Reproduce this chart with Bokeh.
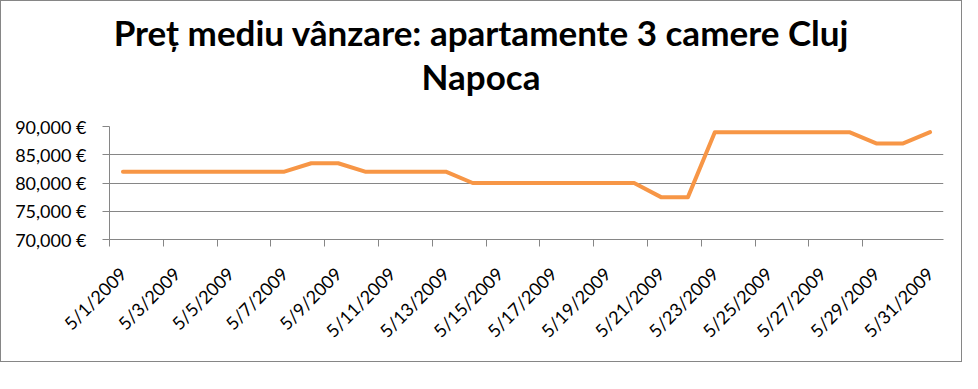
import math
from bokeh.plotting import figure
from bokeh.models import Range1d, FixedTicker, Div
from bokeh.layouts import column
from bokeh.embed import file_html
from bokeh.resources import INLINE

# ---- data ----
dates = ["5/%d/2009" % d for d in range(1, 32)]
prices = [82000, 82000, 82000, 82000, 82000, 82000, 82000,
          83500, 83500,
          82000, 82000, 82000, 82000,
          80000, 80000, 80000, 80000, 80000, 80000, 80000,
          77500, 77500,
          89000, 89000, 89000, 89000, 89000, 89000,
          87000, 87000,
          89000]
y_ticks = [70000, 75000, 80000, 85000, 90000]
y_tick_labels = ["70,000 €", "75,000 €", "80,000 €", "85,000 €", "90,000 €"]
title_lines = ["Preț mediu vânzare: apartamente 3 camere Cluj", "Napoca"]

x = list(range(len(dates)))
label_step = 2
label_pos = x[::label_step]
tick_pos = [i - 0.5 for i in label_pos if i < len(dates) - 1]

GRAY = "#868686"
FONT = "Lato"
W = 960

# title block
title_html = ('<div style="font-family:Lato; font-weight:bold; font-size:35px; '
              'line-height:44px; text-align:center; color:black; '
              'padding-top:9px; width:%dpx; margin:0;">%s</div>'
              % (W, "<br>".join(title_lines)))
title = Div(text=title_html, width=W, height=113, margin=(0, 0, 0, 0))

p = figure(width=W, height=247, output_backend="svg", toolbar_location=None,
           x_range=Range1d(-0.5, len(dates) - 0.5),
           y_range=Range1d(y_ticks[0], y_ticks[-1]),
           min_border_left=108, min_border_right=18,
           min_border_top=12, min_border_bottom=122)
p.title = None
p.outline_line_color = None
p.background_fill_color = "white"
p.border_fill_color = "white"

# y axis
ya = p.yaxis[0]
ya.ticker = FixedTicker(ticks=y_ticks)
ya.major_label_overrides = {t: s for t, s in zip(y_ticks, y_tick_labels)}
ya.major_tick_out = 7
ya.major_tick_in = 0
ya.minor_tick_out = 0
ya.minor_tick_in = 0
ya.axis_line_color = GRAY
ya.major_tick_line_color = GRAY
ya.major_label_standoff = 16
ya.major_label_text_font = FONT
ya.major_label_text_font_size = "18px"
ya.major_label_text_color = "black"

p.ygrid[0].ticker = FixedTicker(ticks=y_ticks)
p.ygrid[0].grid_line_color = GRAY
p.xgrid[0].grid_line_color = None

# x axis: labels at category centres, tick marks at category boundaries
xa = p.xaxis[0]
xa.ticker = FixedTicker(ticks=label_pos, minor_ticks=tick_pos)
xa.major_label_overrides = {i: dates[i] for i in label_pos}
xa.major_tick_out = 0
xa.major_tick_in = 0
xa.minor_tick_out = 7
xa.minor_tick_in = 0
xa.minor_tick_line_color = GRAY
xa.axis_line_color = GRAY
xa.major_label_orientation = math.pi / 4
xa.major_label_standoff = 24
xa.major_label_text_font = FONT
xa.major_label_text_font_size = "18px"
xa.major_label_text_color = "black"

p.line(x, prices, line_color="#F79646", line_width=4,
       line_join="round", line_cap="round")

layout = column(title, p, spacing=0,
                styles={"border": "1px solid " + GRAY, "background": "white"})

open("out.html", "w").write(file_html(layout, INLINE))
